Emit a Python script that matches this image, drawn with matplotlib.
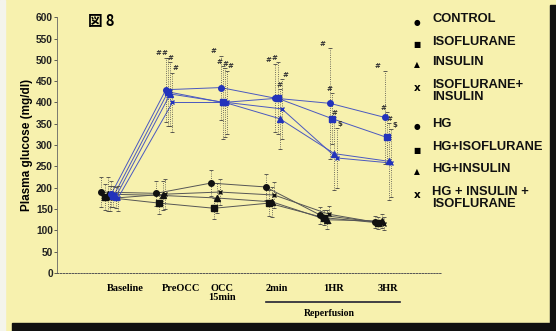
import numpy as np
import matplotlib.pyplot as plt

# time points and group names
timepoints = ['Baseline', 'PreOCC', 'OCC\n15min', '2min', '1HR', '3HR']
groups = ['CONTROL', 'ISOFLURANE', 'INSULIN', 'ISOFLURANE+\nINSULIN',
          'HG', 'HG+ISOFLURANE', 'HG+INSULIN', 'HG + INSULIN +\nISOFLURANE']

# mean plasma glucose (mg/dl)
control = [190, 187, 211, 202, 136, 120]
isoflurane = [178, 164, 152, 164, 130, 118]
insulin = [185, 182, 176, 167, 125, 122]
iso_insulin = [175, 185, 190, 183, 138, 116]
hg = [185, 430, 435, 410, 398, 365]
hg_iso = [180, 425, 400, 410, 362, 318]
hg_insulin = [178, 420, 400, 362, 280, 262]
hg_ins_iso = [175, 400, 400, 385, 270, 258]

# standard deviations
control_err = [35, 30, 30, 30, 20, 15]
isoflurane_err = [30, 25, 25, 30, 18, 14]
insulin_err = [40, 35, 35, 35, 22, 16]
iso_insulin_err = [30, 35, 30, 30, 20, 15]
hg_err = [30, 75, 75, 80, 130, 110]
hg_iso_err = [25, 80, 85, 85, 60, 60]
hg_insulin_err = [25, 75, 80, 70, 85, 90]
hg_ins_iso_err = [30, 70, 75, 70, 70, 80]

means = [control, isoflurane, insulin, iso_insulin, hg, hg_iso, hg_insulin, hg_ins_iso]
errs = [control_err, isoflurane_err, insulin_err, iso_insulin_err,
        hg_err, hg_iso_err, hg_insulin_err, hg_ins_iso_err]

# significance marks above the HG error bars
hg_marks = [['', '#', '#', '#', '#', '#'],
            ['', '#', '#', '#', '#', '#'],
            ['', '#', '#', '#', '#', '#'],
            ['', '#', '#', '#', '$', '$']]

markers = ['o', 's', '^', 'x', 'o', 's', '^', 'x']
offsets = [-0.16, -0.1, -0.04, 0.0, 0.02, 0.06, 0.1, 0.14]
mark_shift = [-0.07, 0.0, 0.06, 0.12]

bg = '#f7f1ae'
fig = plt.figure(figsize=(5.56, 3.31), dpi=100)
fig.patch.set_facecolor(bg)
ax = fig.add_axes([0.1025, 0.175, 0.69, 0.773])
ax.set_facecolor(bg)

x = np.arange(len(timepoints))
for i in range(8):
    xs = x + offsets[i]
    blue = i >= 4
    lc = '#4a58c0' if blue else '#555555'
    mc = '#2233bb' if blue else '#111111'
    ax.plot(xs, means[i], color=lc, lw=0.7, zorder=2)
    eb = ax.errorbar(xs, means[i], yerr=errs[i], fmt='none', ecolor='#444444',
                     elinewidth=0.6, capsize=1.5, capthick=0.6, zorder=3)
    eb[2][0].set_linestyle(':')
    ax.plot(xs, means[i], linestyle='none', marker=markers[i], color=mc,
            ms=4 if markers[i] != 'x' else 3.5, mew=1, zorder=4)
    if blue:
        for j in range(len(timepoints)):
            m = hg_marks[i - 4][j]
            if m:
                ax.text(xs[j] + mark_shift[i - 4] - 0.06, means[i][j] + errs[i][j] + 3, m,
                        fontsize=5, color='#333333', ha='center', va='bottom',
                        fontweight='bold')

ax.set_xlim(-0.97, 6.04)
ax.set_ylim(0, 600)
ax.set_yticks(range(0, 601, 50))
ax.set_yticklabels([str(v) for v in range(0, 601, 50)], fontsize=7.3,
                   fontweight='bold', family='Liberation Sans', color='#222222')
ax.tick_params(axis='y', length=2, width=0.6, pad=1, colors='#444444', labelcolor='#222222')
ax.tick_params(axis='x', length=0)
ax.set_xticks([])
for s in ['top', 'right']:
    ax.spines[s].set_visible(False)
ax.spines['left'].set_color('#666666')
ax.spines['left'].set_linewidth(0.6)
ax.spines['bottom'].set_linestyle((0, (1.5, 1.5)))
ax.spines['bottom'].set_color('#555555')
ax.spines['bottom'].set_linewidth(0.7)
ax.set_ylabel('Plasma glucose (mg/dl)', fontsize=8.5, fontweight='bold',
              family='Liberation Sans', labelpad=2)

# category labels below axis
label_shift = [0.27, 0.3, 0.05, 0.04, 0.08, 0.07]
for j, t in enumerate(timepoints):
    ax.text(x[j] + label_shift[j], -25, t, ha='center', va='top', fontsize=7.5,
            fontweight='bold', family='Liberation Serif', linespacing=1.05)

# reperfusion bracket
ax.plot([2.85, 5.3], [-67, -67], color='#222233', lw=1.2, clip_on=False)
ax.text(4.0, -85, 'Reperfusion', ha='center', va='top', fontsize=7,
        fontweight='bold', family='Liberation Serif')

fig.text(0.158, 0.96, '図 8', fontsize=10.5, fontweight='bold',
         family=['Noto Sans CJK JP', 'DejaVu Sans'], va='top', ha='left')

# legend drawn as text beside the plot
leg_y = [22, 45, 65, 88, 127, 150, 172, 195]
for i in range(8):
    yy = 1 - leg_y[i] / 331
    fig.text(0.75, yy, {'o': '\u25cf', 's': '\u25a0', '^': '\u25b2', 'x': 'x'}[markers[i]],
             fontsize=5.5 if markers[i] != 'x' else 7.5, ha='center', va='center',
             fontweight='bold', family='DejaVu Sans')
    fig.text(0.777, yy + 0.027, groups[i], fontsize=9.3, fontweight='bold',
             family='Liberation Sans', va='top', ha='left', linespacing=1.0,
             color='#111111')

# dark frame pieces at right and bottom
fig.patches.append(plt.Rectangle((0.989, 0), 0.011, 0.985, transform=fig.transFigure,
                                 color='#111111', zorder=0))
fig.patches.append(plt.Rectangle((0.021, 0), 0.979, 0.025, transform=fig.transFigure,
                                 color='#111111', zorder=0))
fig.patches.append(plt.Rectangle((0, 0), 0.009, 1, transform=fig.transFigure,
                                 color='#f4f4ec', zorder=0))

fig.savefig('out.png', dpi=100, facecolor=bg)
